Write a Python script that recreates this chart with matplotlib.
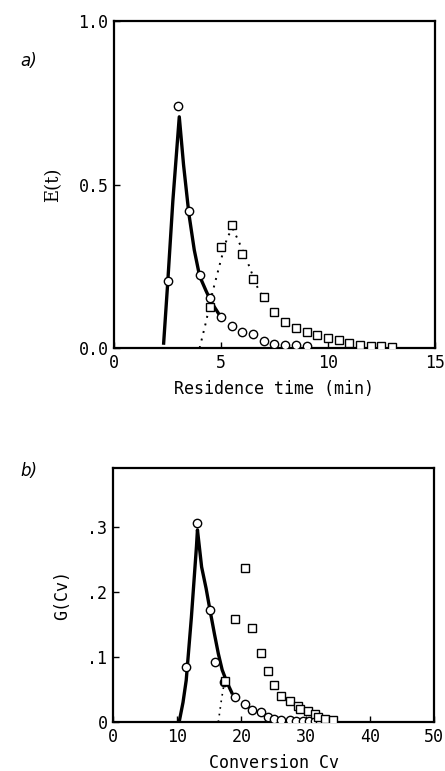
import matplotlib
matplotlib.use("Agg")
import matplotlib.pyplot as plt

# ---------- Panel a data ----------
a_circ_x = [2.5, 3.0, 3.5, 4.0, 4.5, 5.0, 5.5, 6.0, 6.5, 7.0, 7.5, 8.0, 8.5, 9.0]
a_circ_y = [0.205, 0.74, 0.42, 0.223, 0.154, 0.096, 0.068, 0.049, 0.042, 0.022, 0.011, 0.010, 0.008, 0.005]
a_sq_x = [4.5, 5.0, 5.5, 6.0, 6.5, 7.0, 7.5, 8.0, 8.5, 9.0, 9.5, 10.0, 10.5, 11.0, 11.5, 12.0, 12.5, 13.0]
a_sq_y = [0.126, 0.309, 0.376, 0.287, 0.21, 0.157, 0.109, 0.080, 0.062, 0.048, 0.039, 0.032, 0.024, 0.016, 0.010, 0.007, 0.005, 0.003]
a_solid_x = [2.32, 2.5, 2.75, 3.05, 3.25, 3.5, 3.75, 4.0, 4.3, 4.55, 4.88]
a_solid_y = [0.015, 0.19, 0.45, 0.707, 0.56, 0.41, 0.30, 0.22, 0.175, 0.14, 0.106]
a_dot_x = [4.0, 4.3, 4.6, 5.0, 5.3, 5.55, 5.8, 6.2, 6.67, 7.0]
a_dot_y = [0.0, 0.08, 0.17, 0.27, 0.34, 0.365, 0.33, 0.27, 0.19, 0.15]
a_xticks = [0, 5, 10, 15]
a_yticks = [0.0, 0.5, 1.0]
a_yticklabels = ["0.0", "0.5", "1.0"]

# ---------- Panel b data ----------
b_circ_x = [11.4, 13.1, 15.1, 15.9, 17.3, 19.0, 20.6, 21.6, 23.0, 24.1, 25.1, 26.2, 27.5, 28.5, 29.6, 30.5, 31.5, 32.2]
b_circ_y = [0.085, 0.305, 0.172, 0.092, 0.061, 0.039, 0.028, 0.019, 0.016, 0.008, 0.004, 0.003, 0.003, 0.002, 0.002, 0.002, 0.002, 0.001]
b_sq_x = [17.4, 19.0, 20.6, 21.6, 23.1, 24.1, 25.1, 26.1, 27.6, 28.8, 29.1, 30.3, 31.5, 32.0, 33.0, 34.3]
b_sq_y = [0.063, 0.158, 0.236, 0.145, 0.106, 0.078, 0.056, 0.040, 0.032, 0.025, 0.020, 0.017, 0.012, 0.008, 0.005, 0.003]
b_solid_x = [10.3, 10.9, 11.4, 12.2, 13.0, 13.15, 13.8, 14.5, 15.1, 15.8, 16.4, 17.0, 17.7, 18.5]
b_solid_y = [0.0, 0.03, 0.064, 0.16, 0.27, 0.295, 0.238, 0.205, 0.172, 0.135, 0.105, 0.08, 0.062, 0.045]
b_dot_x = [16.4, 16.9, 17.4]
b_dot_y = [0.0, 0.035, 0.065]
b_xticks = [0, 10, 20, 30, 40, 50]
b_yticks = [0.0, 0.1, 0.2, 0.3]
b_yticklabels = ["0", ".1", ".2", ".3"]

FONT = "DejaVu Sans Mono"
plt.rcParams['font.family'] = [FONT]

fig = plt.figure(figsize=(4.45, 7.71), dpi=100)
fig.patch.set_facecolor("white")

axa = fig.add_axes([0.2562, 0.5486, 0.7213, 0.4242])
axb = fig.add_axes([0.2540, 0.0636, 0.7213, 0.3294])

mk = dict(linestyle="none", markerfacecolor="white", markeredgecolor="black", markeredgewidth=1.0)

for ax in (axa, axb):
    for s in ax.spines.values():
        s.set_linewidth(1.6)
    ax.tick_params(direction="in", length=4, width=1, labelsize=12, top=False, right=False, pad=4)

# Panel a
axa.plot(a_solid_x, a_solid_y, color="black", lw=2.4, zorder=3)
axa.plot(a_dot_x, a_dot_y, color="black", lw=1.4, linestyle=(0, (1, 3)), zorder=2)
axa.plot(a_circ_x, a_circ_y, marker="o", markersize=6, zorder=4, **mk)
axa.plot(a_sq_x, a_sq_y, marker="s", markersize=5.5, zorder=4, **mk)
axa.set_xlim(0, 15)
axa.set_ylim(0, 1.0)
axa.set_xticks(a_xticks)
axa.set_yticks(a_yticks)
axa.set_yticklabels(a_yticklabels)
axa.set_xlabel("Residence time (min)", fontsize=12, labelpad=6)
axa.set_ylabel("E(t)", fontsize=13, family=["DejaVu Serif"], labelpad=12)
fig.text(0.045, 0.915, "a)", fontsize=12, style="italic", family="DejaVu Sans")

# Panel b
axb.plot(b_solid_x, b_solid_y, color="black", lw=2.4, zorder=3)
axb.plot(b_dot_x, b_dot_y, color="black", lw=1.2, linestyle=(0, (1, 3)), zorder=2)
axb.plot(b_circ_x, b_circ_y, marker="o", markersize=6, zorder=4, **mk)
axb.plot(b_sq_x, b_sq_y, marker="s", markersize=5.5, zorder=4, **mk)
axb.set_xlim(0, 50)
axb.set_ylim(0, 0.39)
axb.set_xticks(b_xticks)
axb.set_yticks(b_yticks)
axb.set_yticklabels(b_yticklabels)
axb.set_xlabel("Conversion Cv", fontsize=12, labelpad=6)
axb.set_ylabel("G(Cv)", fontsize=12, labelpad=12)
fig.text(0.045, 0.383, "b)", fontsize=12, style="italic", family="DejaVu Sans")

fig.savefig("out.png", dpi=100, facecolor="white")
